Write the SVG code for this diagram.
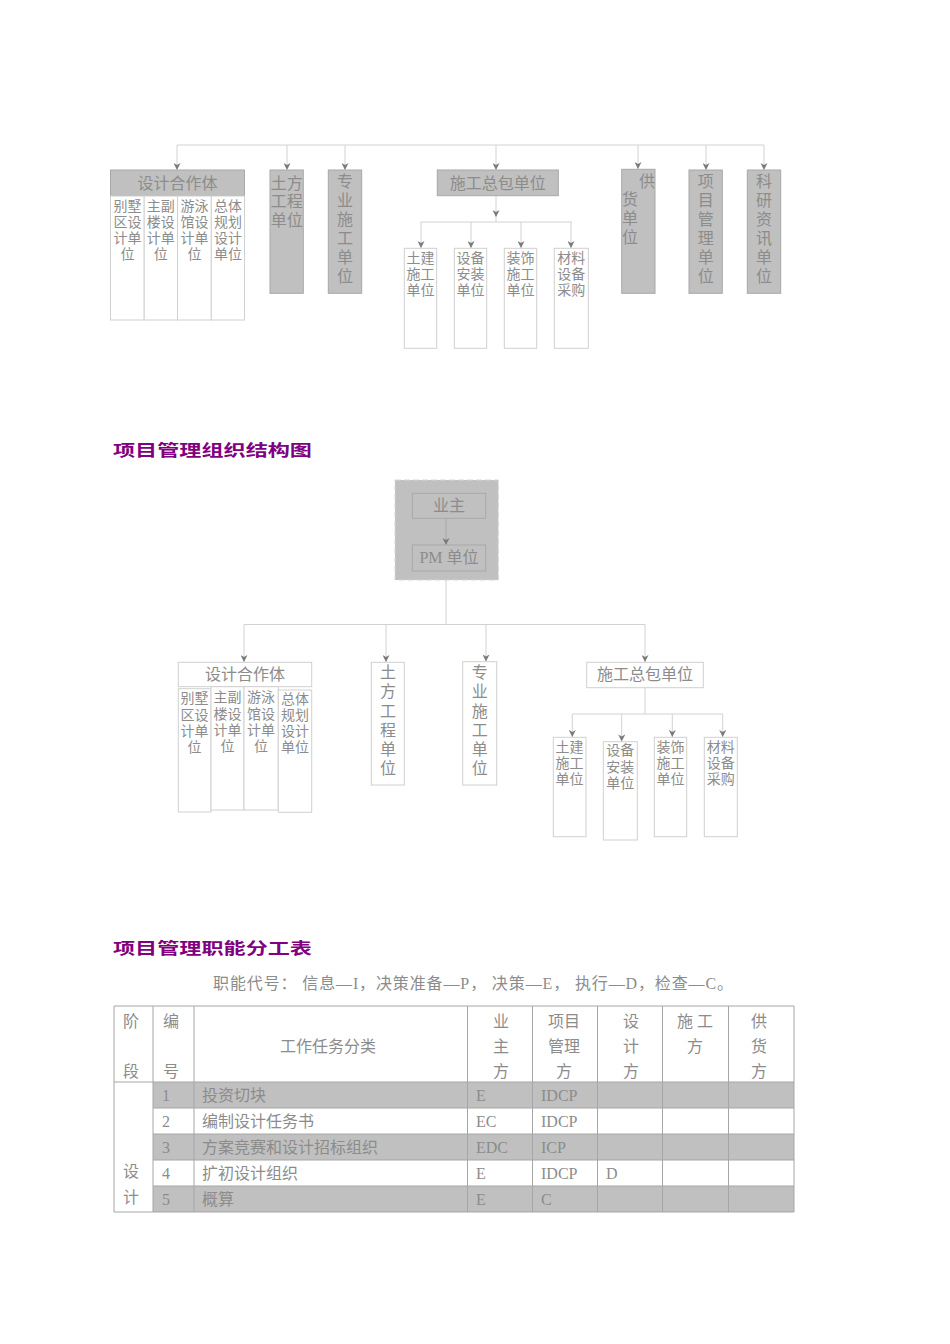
<svg xmlns="http://www.w3.org/2000/svg" width="950" height="1344" viewBox="0 0 950 1344">
<style>
text{font-family:"Liberation Serif","Noto Sans CJK SC",serif;fill:#8c8c8c}
.t16{font-size:16px}
.t14{font-size:14px}
.c{text-anchor:middle}
.gbox{fill:#c0c0c0;stroke:#a8a8a8;stroke-width:1}
.wbox{fill:#ffffff;stroke:#d0d0d0;stroke-width:1}
.ibox{fill:none;stroke:#a8a8a8;stroke-width:1}
.conn{stroke:#d2d2d2;stroke-width:1;fill:none}
.arr{marker-end:url(#ah)}
.title{font-family:"Noto Sans CJK SC",sans-serif;font-weight:bold;font-size:16px;fill:#800080}
.tl{stroke:#a6a6a6;stroke-width:1;fill:none}
.trow{fill:#c0c0c0}
</style>
<defs>
<marker id="ah" viewBox="0 0 10 10" refX="10" refY="5" markerWidth="8" markerHeight="7" markerUnits="userSpaceOnUse" orient="auto">
<path d="M0,0 L10,5 L0,10 L3,5 z" fill="#7a7a7a"/>
</marker>
</defs>
<rect width="950" height="1344" fill="#ffffff"/>

<!-- ===== Top chart ===== -->
<g id="connectors-top">
<path class="conn" d="M177,145 H764"/>
<path class="conn arr" d="M177,145 V170"/>
<path class="conn arr" d="M287,145 V170"/>
<path class="conn arr" d="M345,145 V170"/>
<path class="conn arr" d="M496,145 V170"/>
<path class="conn arr" d="M638,145 V169"/>
<path class="conn arr" d="M706,145 V170"/>
<path class="conn arr" d="M764,145 V170"/>
<path class="conn arr" d="M496,196 V217"/>
<path class="conn" d="M496,217 V222"/>
<path class="conn" d="M421,222 H572"/>
<path class="conn arr" d="M421,222 V248"/>
<path class="conn arr" d="M471,222 V248"/>
<path class="conn arr" d="M521,222 V248"/>
<path class="conn arr" d="M571,222 V248"/>
</g>

<g id="t-design">
<rect class="gbox" x="110.5" y="170" width="134" height="26"/>
<text class="t16 c" x="177.5" y="189">设计合作体</text>
</g>
<g id="t-villa">
<rect class="wbox" x="110.5" y="196" width="33.7" height="124"/>
<text class="t14 c" x="127.4" y="211">别墅</text><text class="t14 c" x="127.4" y="227">区设</text><text class="t14 c" x="127.4" y="243">计单</text><text class="t14 c" x="127.4" y="259">位</text>
</g>
<g id="t-main">
<rect class="wbox" x="144.2" y="196" width="33.3" height="124"/>
<text class="t14 c" x="160.8" y="211">主副</text><text class="t14 c" x="160.8" y="227">楼设</text><text class="t14 c" x="160.8" y="243">计单</text><text class="t14 c" x="160.8" y="259">位</text>
</g>
<g id="t-pool">
<rect class="wbox" x="177.5" y="196" width="33.8" height="124"/>
<text class="t14 c" x="194.4" y="211">游泳</text><text class="t14 c" x="194.4" y="227">馆设</text><text class="t14 c" x="194.4" y="243">计单</text><text class="t14 c" x="194.4" y="259">位</text>
</g>
<g id="t-plan">
<rect class="wbox" x="211.3" y="196" width="33.2" height="124"/>
<text class="t14 c" x="227.9" y="211">总体</text><text class="t14 c" x="227.9" y="227">规划</text><text class="t14 c" x="227.9" y="243">设计</text><text class="t14 c" x="227.9" y="259">单位</text>
</g>
<g id="t-earth">
<rect class="gbox" x="270" y="170" width="33.3" height="123.3"/>
<text class="t16" x="270.8" y="188.5">土方</text><text class="t16" x="270.8" y="207">工程</text><text class="t16" x="270.8" y="226">单位</text>
</g>
<g id="t-special">
<rect class="gbox" x="328.3" y="170" width="33.4" height="123.3"/>
<text class="t16 c" x="345" y="187">专</text><text class="t16 c" x="345" y="206">业</text><text class="t16 c" x="345" y="225">施</text><text class="t16 c" x="345" y="244">工</text><text class="t16 c" x="345" y="263">单</text><text class="t16 c" x="345" y="282">位</text>
</g>
<g id="t-general">
<rect class="gbox" x="437.3" y="170" width="121" height="25.7"/>
<text class="t16 c" x="497.8" y="188.5">施工总包单位</text>
</g>
<g id="t-civil">
<rect class="wbox" x="404.3" y="248.3" width="32.4" height="100"/>
<text class="t14 c" x="420.5" y="263">土建</text><text class="t14 c" x="420.5" y="279">施工</text><text class="t14 c" x="420.5" y="295">单位</text>
</g>
<g id="t-install">
<rect class="wbox" x="454.3" y="248.3" width="32.4" height="100"/>
<text class="t14 c" x="470.5" y="263">设备</text><text class="t14 c" x="470.5" y="279">安装</text><text class="t14 c" x="470.5" y="295">单位</text>
</g>
<g id="t-deco">
<rect class="wbox" x="504.3" y="248.3" width="32.4" height="100"/>
<text class="t14 c" x="520.5" y="263">装饰</text><text class="t14 c" x="520.5" y="279">施工</text><text class="t14 c" x="520.5" y="295">单位</text>
</g>
<g id="t-material">
<rect class="wbox" x="554.3" y="248.3" width="34" height="100"/>
<text class="t14 c" x="571.3" y="263">材料</text><text class="t14 c" x="571.3" y="279">设备</text><text class="t14 c" x="571.3" y="295">采购</text>
</g>
<g id="t-supply">
<rect class="gbox" x="621.7" y="169.3" width="33.3" height="124"/>
<text class="t16 c" x="647" y="187">供</text><text class="t16 c" x="630" y="205">货</text><text class="t16 c" x="630" y="224">单</text><text class="t16 c" x="630" y="243">位</text>
</g>
<g id="t-pm">
<rect class="gbox" x="689" y="170" width="33.3" height="123.3"/>
<text class="t16 c" x="705.7" y="187">项</text><text class="t16 c" x="705.7" y="206">目</text><text class="t16 c" x="705.7" y="225">管</text><text class="t16 c" x="705.7" y="244">理</text><text class="t16 c" x="705.7" y="263">单</text><text class="t16 c" x="705.7" y="282">位</text>
</g>
<g id="t-research">
<rect class="gbox" x="747.3" y="170" width="33.4" height="123.3"/>
<text class="t16 c" x="764" y="187">科</text><text class="t16 c" x="764" y="206">研</text><text class="t16 c" x="764" y="225">资</text><text class="t16 c" x="764" y="244">讯</text><text class="t16 c" x="764" y="263">单</text><text class="t16 c" x="764" y="282">位</text>
</g>

<!-- ===== Title 1 ===== -->
<text class="title" x="113" y="456" textLength="199" lengthAdjust="spacingAndGlyphs">项目管理组织结构图</text>

<!-- ===== Middle chart ===== -->
<g id="m-pmgroup">
<rect x="395" y="480" width="103.3" height="100" fill="#c0c0c0" stroke="#d6d6d6" stroke-dasharray="6 3"/>
</g>
<g id="connectors-mid">
<path class="arr" d="M446,518.5 V545" stroke="#a8a8a8" fill="none"/>
<path class="conn" d="M446,580 V624.5"/>
<path class="conn" d="M244,624.5 H645"/>
<path class="conn arr" d="M244,624.5 V662"/>
<path class="conn arr" d="M386,624.5 V662"/>
<path class="conn arr" d="M486,624.5 V661.5"/>
<path class="conn arr" d="M645,624.5 V662"/>
<path class="conn" d="M645,688 V714"/>
<path class="conn" d="M572.3,714 H722.7"/>
<path class="conn arr" d="M572.3,714 V737"/>
<path class="conn arr" d="M621.7,714 V741.5"/>
<path class="conn arr" d="M672.3,714 V737"/>
<path class="conn arr" d="M722.7,714 V737"/>
</g>

<g id="m-owner">
<rect class="ibox" x="412.3" y="493.3" width="73.4" height="25"/>
<text class="t16 c" x="449" y="511">业主</text>
</g>
<g id="m-pm">
<rect class="ibox" x="412.3" y="545" width="73.4" height="26"/>
<text class="t16 c" x="449" y="563">PM 单位</text>
</g>
<g id="m-design">
<rect class="wbox" x="178.3" y="662.3" width="133.4" height="24.4"/>
<text class="t16 c" x="245" y="680">设计合作体</text>
</g>
<g id="m-villa">
<rect class="wbox" x="178.3" y="688.7" width="32.7" height="123.3"/>
<text class="t14 c" x="194.6" y="703">别墅</text><text class="t14 c" x="194.6" y="720">区设</text><text class="t14 c" x="194.6" y="736">计单</text><text class="t14 c" x="194.6" y="752">位</text>
</g>
<g id="m-main">
<rect class="wbox" x="211" y="686.7" width="33" height="123.3"/>
<text class="t14 c" x="227.5" y="702">主副</text><text class="t14 c" x="227.5" y="719">楼设</text><text class="t14 c" x="227.5" y="735">计单</text><text class="t14 c" x="227.5" y="751">位</text>
</g>
<g id="m-pool">
<rect class="wbox" x="244" y="686.7" width="34.3" height="123.3"/>
<text class="t14 c" x="261" y="702">游泳</text><text class="t14 c" x="261" y="719">馆设</text><text class="t14 c" x="261" y="735">计单</text><text class="t14 c" x="261" y="751">位</text>
</g>
<g id="m-plan">
<rect class="wbox" x="278.3" y="690" width="33.4" height="122.3"/>
<text class="t14 c" x="295" y="704">总体</text><text class="t14 c" x="295" y="720">规划</text><text class="t14 c" x="295" y="736">设计</text><text class="t14 c" x="295" y="752">单位</text>
</g>
<g id="m-earth">
<rect class="wbox" x="371.3" y="662.3" width="33" height="122.7"/>
<text class="t16 c" x="388" y="678">土</text><text class="t16 c" x="388" y="697">方</text><text class="t16 c" x="388" y="717">工</text><text class="t16 c" x="388" y="736">程</text><text class="t16 c" x="388" y="755">单</text><text class="t16 c" x="388" y="774">位</text>
</g>
<g id="m-special">
<rect class="wbox" x="462.7" y="661.7" width="34" height="123.3"/>
<text class="t16 c" x="479.7" y="678">专</text><text class="t16 c" x="479.7" y="697">业</text><text class="t16 c" x="479.7" y="717">施</text><text class="t16 c" x="479.7" y="736">工</text><text class="t16 c" x="479.7" y="755">单</text><text class="t16 c" x="479.7" y="774">位</text>
</g>
<g id="m-general">
<rect class="wbox" x="586.7" y="662.3" width="116.6" height="25.4"/>
<text class="t16 c" x="645" y="679.5">施工总包单位</text>
</g>
<g id="m-civil">
<rect class="wbox" x="553.3" y="737.3" width="32.7" height="99.4"/>
<text class="t14 c" x="569.6" y="752">土建</text><text class="t14 c" x="569.6" y="768">施工</text><text class="t14 c" x="569.6" y="784">单位</text>
</g>
<g id="m-install">
<rect class="wbox" x="603.3" y="741.7" width="34" height="98.3"/>
<text class="t14 c" x="620.3" y="755">设备</text><text class="t14 c" x="620.3" y="772">安装</text><text class="t14 c" x="620.3" y="788">单位</text>
</g>
<g id="m-deco">
<rect class="wbox" x="654.3" y="737.3" width="32.4" height="99.4"/>
<text class="t14 c" x="670.5" y="752">装饰</text><text class="t14 c" x="670.5" y="768">施工</text><text class="t14 c" x="670.5" y="784">单位</text>
</g>
<g id="m-material">
<rect class="wbox" x="704.3" y="737.3" width="33" height="99.4"/>
<text class="t14 c" x="720.8" y="752">材料</text><text class="t14 c" x="720.8" y="768">设备</text><text class="t14 c" x="720.8" y="784">采购</text>
</g>

<!-- ===== Title 2 + legend ===== -->
<text class="title" x="113" y="954" textLength="199" lengthAdjust="spacingAndGlyphs">项目管理职能分工表</text>
<text class="t16" x="213" y="989" textLength="520" lengthAdjust="spacing">职能代号：  信息—I，决策准备—P，  决策—E，  执行—D，检查—C。</text>

<!-- ===== Table ===== -->
<g id="table">
<rect class="trow" x="153" y="1082" width="641" height="26"/>
<rect class="trow" x="153" y="1134" width="641" height="26"/>
<rect class="trow" x="153" y="1186" width="641" height="26"/>
<path class="tl" d="M114,1006 H794 M114,1082 H794 M153,1108 H794 M153,1134 H794 M153,1160 H794 M153,1186 H794 M114,1212 H794"/>
<path class="tl" d="M114,1006 V1212 M153,1006 V1212 M194,1006 V1212 M467.5,1006 V1212 M532.5,1006 V1212 M597.5,1006 V1212 M662.5,1006 V1212 M728.5,1006 V1212 M794,1006 V1212"/>
<text class="t16 c" x="131" y="1027">阶</text><text class="t16 c" x="131" y="1077">段</text>
<text class="t16 c" x="171" y="1027">编</text><text class="t16 c" x="171" y="1077">号</text>
<text class="t16 c" x="328" y="1052">工作任务分类</text>
<text class="t16 c" x="501" y="1027">业</text><text class="t16 c" x="501" y="1052">主</text><text class="t16 c" x="501" y="1077">方</text>
<text class="t16 c" x="564" y="1027">项目</text><text class="t16 c" x="564" y="1052">管理</text><text class="t16 c" x="564" y="1077">方</text>
<text class="t16 c" x="631" y="1027">设</text><text class="t16 c" x="631" y="1052">计</text><text class="t16 c" x="631" y="1077">方</text>
<text class="t16 c" x="695" y="1027" xml:space="preserve">施 工</text><text class="t16 c" x="695" y="1052">方</text>
<text class="t16 c" x="759" y="1027">供</text><text class="t16 c" x="759" y="1052">货</text><text class="t16 c" x="759" y="1077">方</text>
<text class="t16 c" x="131" y="1177">设</text><text class="t16 c" x="131" y="1203">计</text>
<text class="t16" x="162" y="1100.5">1</text><text class="t16" x="202" y="1100.5">投资切块</text><text class="t16" x="476" y="1100.5">E</text><text class="t16" x="541" y="1100.5">IDCP</text>
<text class="t16" x="162" y="1126.5">2</text><text class="t16" x="202" y="1126.5">编制设计任务书</text><text class="t16" x="476" y="1126.5">EC</text><text class="t16" x="541" y="1126.5">IDCP</text>
<text class="t16" x="162" y="1152.5">3</text><text class="t16" x="202" y="1152.5">方案竞赛和设计招标组织</text><text class="t16" x="476" y="1152.5">EDC</text><text class="t16" x="541" y="1152.5">ICP</text>
<text class="t16" x="162" y="1178.5">4</text><text class="t16" x="202" y="1178.5">扩初设计组织</text><text class="t16" x="476" y="1178.5">E</text><text class="t16" x="541" y="1178.5">IDCP</text><text class="t16" x="606" y="1178.5">D</text>
<text class="t16" x="162" y="1204.5">5</text><text class="t16" x="202" y="1204.5">概算</text><text class="t16" x="476" y="1204.5">E</text><text class="t16" x="541" y="1204.5">C</text>
</g>
</svg>
